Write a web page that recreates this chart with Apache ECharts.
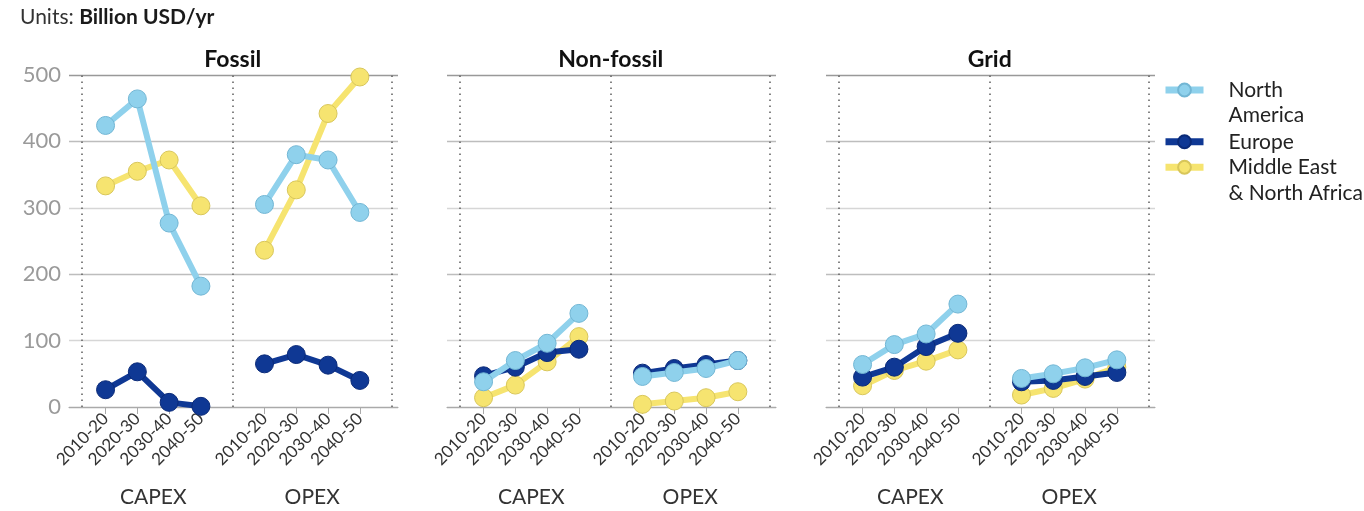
<!DOCTYPE html>
<html>
<head>
<meta charset="utf-8">
<script src="https://cdn.jsdelivr.net/npm/echarts@6/dist/echarts.min.js"></script>
<style>
html,body{margin:0;padding:0;background:#fff;}
#chart{width:1364px;height:511px;}
</style>
</head>
<body>
<div id="chart"></div>
<script>
// ---- data ----
const panels = ['Fossil', 'Non-fossil', 'Grid'];
const groups = ['CAPEX', 'OPEX'];
const periods = ['2010-20', '2020-30', '2030-40', '2040-50'];
const regions = ['North America', 'Europe', 'Middle East & North Africa'];
const regionLabels = ['\nNorth\nAmerica', 'Europe', '\nMiddle East\n& North Africa'];
const yTicks = [0, 100, 200, 300, 400, 500];

// values: 4 CAPEX periods followed by 4 OPEX periods
const fossilNA   = [424, 464, 277, 182, 305, 380, 372, 293];
const fossilEU   = [26, 53, 7, 1, 65, 79, 63, 40];
const fossilMENA = [333, 355, 372, 303, 236, 327, 442, 497];
const nonfossilNA   = [38, 70, 96, 141, 46, 52, 58, 70];
const nonfossilEU   = [47, 60, 82, 87, 51, 58, 64, 70];
const nonfossilMENA = [14, 33, 68, 106, 4, 9, 14, 23];
const gridNA   = [64, 94, 110, 155, 43, 50, 59, 71];
const gridEU   = [45, 60, 91, 111, 38, 40, 46, 52];
const gridMENA = [32, 55, 69, 86, 18, 28, 42, 60];

const panelData = [
  [fossilNA, fossilEU, fossilMENA],
  [nonfossilNA, nonfossilEU, nonfossilMENA],
  [gridNA, gridEU, gridMENA]
];

// ---- layout / style ----
const FONT = 'Lato, "Open Sans", sans-serif';
const colors = ['#8fd1ec', '#0f3894', '#f6e470'];
const borders = ['#72b6d4', '#0a2a78', '#d8c65a'];
const zs = [4, 3, 2];
const gridLefts = [69, 447, 826];
const gridW = 329, gridTop = 75, gridH = 332;
const xMin = -0.15, xMax = 10.2;
// x positions: CAPEX slots 1-4, gap at 5, OPEX slots 6-9
const slotPos = [1, 2, 3, 4, 6, 7, 8, 9];
const groupPos = [2.5, 7.5];
const dividers = [0.245, 5, 10];

const slotLabel = v => {
  const i = slotPos.indexOf(Math.round(v));
  return i < 0 ? '' : periods[i % 4];
};
const groupLabel = v => {
  const i = groupPos.indexOf(v);
  return i < 0 ? '' : groups[i];
};

const grids = [], xAxes = [], yAxes = [], series = [], graphics = [];

panels.forEach((p, g) => {
  grids.push({left: gridLefts[g], top: gridTop, width: gridW, height: gridH});
  xAxes.push({
    type: 'value', gridIndex: g, min: xMin, max: xMax,
    axisLine: {show: true, lineStyle: {color: '#aaa', width: 1.2}},
    axisTick: {show: true, customValues: slotPos, length: 7, lineStyle: {color: '#aaa'}},
    axisLabel: {customValues: slotPos, formatter: slotLabel, rotate: 45, fontSize: 17,
      color: '#333', fontFamily: FONT, margin: 9},
    splitLine: {show: false}
  });
  xAxes.push({
    type: 'value', gridIndex: g, min: xMin, max: xMax, position: 'bottom',
    axisLine: {show: false}, axisTick: {show: false}, splitLine: {show: false},
    axisLabel: {customValues: groupPos, formatter: groupLabel, fontSize: 21,
      color: '#333', fontFamily: FONT, margin: 80}
  });
  yAxes.push({
    type: 'value', gridIndex: g, min: yTicks[0], max: yTicks[yTicks.length - 1], interval: 100,
    axisLine: {show: false}, axisTick: {show: false},
    axisLabel: {show: g === 0, fontSize: 22, color: '#9a9a9a', fontFamily: FONT, margin: 8},
    splitLine: {show: true, lineStyle: {color: ['#aaa', '#d6d6d6', '#bdbdbd', '#d6d6d6', '#bdbdbd', '#999'], width: 1.3}}
  });

  regions.forEach((r, k) => {
    const vals = panelData[g][k];
    const data = [];
    vals.forEach((v, i) => {
      if (i === 4) data.push([5, '-']);
      data.push([slotPos[i], v]);
    });
    const s = {
      name: r, type: 'line', xAxisIndex: g * 2, yAxisIndex: g, data: data,
      z: zs[k], symbol: 'circle', symbolSize: 18, connectNulls: false,
      lineStyle: {color: colors[k], width: 6},
      itemStyle: {color: colors[k], borderColor: borders[k], borderWidth: 1},
      emphasis: {disabled: true}, animation: false
    };
    if (k === 0) {
      s.markLine = {
        silent: true, symbol: 'none', animation: false, z: 1,
        label: {show: false},
        lineStyle: {color: '#666', type: [1.5, 4.5], width: 1.6},
        emphasis: {disabled: true},
        data: dividers.map(d => ({xAxis: d}))
      };
    }
    series.push(s);
  });

  graphics.push({
    type: 'text', x: gridLefts[g] + (5 - xMin) / (xMax - xMin) * gridW, y: 60,
    style: {text: p, font: 'bold 23px ' + FONT, fill: '#111', textAlign: 'center', textVerticalAlign: 'middle'}
  });
});

const titles = [{
  text: '{a|Units: }{b|Billion USD/yr}', left: 20, top: 7, padding: 0,
  textStyle: {
    fontSize: 21, fontFamily: FONT,
    rich: {
      a: {fontSize: 21, fontFamily: FONT, color: '#333', fontWeight: 'normal'},
      b: {fontSize: 21, fontFamily: FONT, color: '#1a1a1a', fontWeight: 'bold'}
    }
  }
}];

const legendTops = [51.75, 129, 129];
const legends = regions.map((r, k) => ({
  data: [r], left: 1162, top: legendTops[k], orient: 'vertical', padding: 0,
  itemWidth: 38, itemHeight: 16, selectedMode: false,
  lineStyle: {width: 7},
  formatter: () => regionLabels[k],
  textStyle: {fontSize: 21, lineHeight: 25.5, color: '#222', fontFamily: FONT, padding: [0, 0, 0, 20]}
}));

const chart = echarts.init(document.getElementById('chart'));
chart.setOption({
  animation: false,
  title: titles,
  grid: grids, xAxis: xAxes, yAxis: yAxes, series: series,
  legend: legends, graphic: graphics
});
</script>
</body>
</html>
